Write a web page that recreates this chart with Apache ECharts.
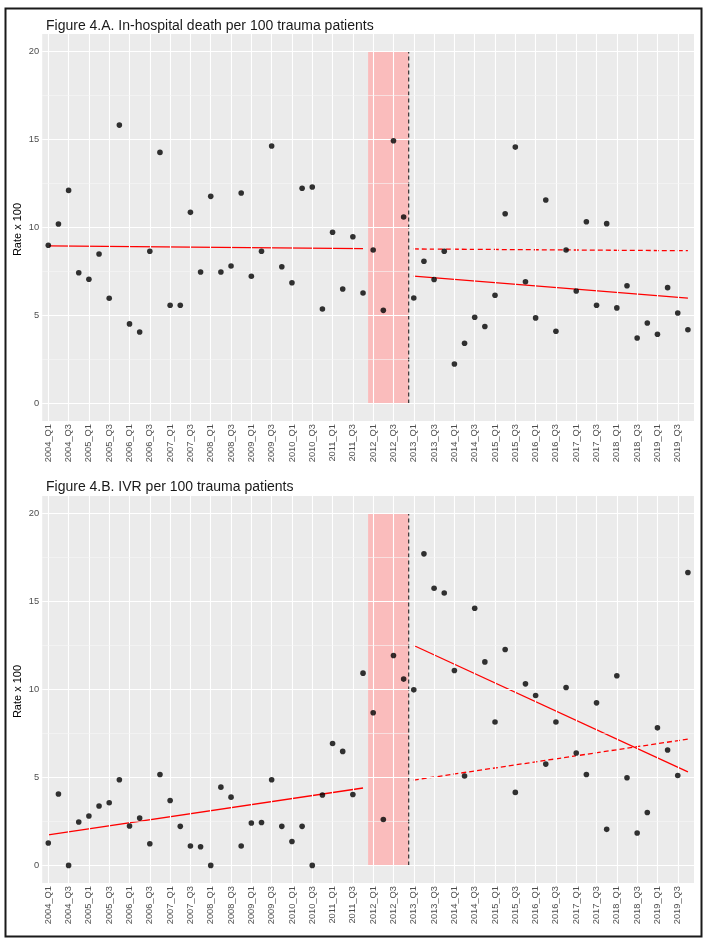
<!DOCTYPE html>
<html>
<head>
<meta charset="utf-8">
<script src="https://cdn.jsdelivr.net/npm/echarts@6/dist/echarts.min.js"></script>
<style>
html,body{margin:0;padding:0;background:#fff;}
#chart{width:707px;height:941px;}
</style>
</head>
<body>
<div id="chart"></div>
<script>
// ---- categories ----
const years = [2004,2005,2006,2007,2008,2009,2010,2011,2012,2013,2014,2015,2016,2017,2018,2019];
const quarterNames = ['Q1','Q2','Q3','Q4'];
const quarters = [];
years.forEach(y => quarterNames.forEach(q => quarters.push(y + '_' + q)));
// label breaks: Q1 and Q3 of every year
const xTickLabels = quarters.filter(q => q.endsWith('Q1') || q.endsWith('Q3'));

const yTickValues = [0, 5, 10, 15, 20];
const yMinorValues = [2.5, 7.5, 12.5, 17.5];

// ---- series values (rate x 100) ----
const deathRate = [
  8.99, 10.2, 12.11, 7.43, 7.06, 8.49, 5.98, 15.82,
  4.52, 4.06, 8.65, 14.27, 5.58, 5.58, 10.86, 7.47,
  11.77, 7.47, 7.81, 11.96, 7.23, 8.65, 14.63, 7.77,
  6.86, 12.23, 12.30, 5.37, 9.73, 6.5, 9.47, 6.28,
  8.72, 5.29, 14.93, 10.6, 5.99, 8.08, 7.04, 8.65,
  2.24, 3.42, 4.9, 4.37, 6.15, 10.78, 14.57, 6.92,
  4.86, 11.56, 4.1, 8.72, 6.39, 10.33, 5.58, 10.22,
  5.43, 6.69, 3.72, 4.57, 3.93, 6.58, 5.14, 4.19
];
const ivrRate = [
  1.27, 4.06, 0, 2.47, 2.81, 3.38, 3.56, 4.87,
  2.24, 2.69, 1.23, 5.17, 3.69, 2.22, 1.1, 1.06,
  0, 4.45, 3.88, 1.1, 2.41, 2.44, 4.87, 2.22,
  1.36, 2.22, 0, 4.0, 6.93, 6.48, 4.03, 10.93,
  8.68, 2.61, 11.93, 10.59, 9.98, 17.71, 15.76, 15.49,
  11.08, 5.08, 14.62, 11.57, 8.15, 12.27, 4.15, 10.32,
  9.66, 5.76, 8.15, 10.11, 6.39, 5.17, 9.24, 2.05,
  10.78, 4.98, 1.84, 3.01, 7.82, 6.56, 5.11, 16.65
];

// ---- fitted segments (start / end values) ----
const preStart = '2004_Q1', preEnd = '2011_Q4';
const postStart = '2013_Q1', postEnd = '2019_Q4';
const interventionFirst = '2012_Q1', interventionLast = '2012_Q4';

const deathTrendPre = [8.95, 8.80];
const deathTrendPost = [7.24, 5.98];
const deathTrendCounterfactual = [8.78, 8.68];
const ivrTrendPre = [1.74, 4.40];
const ivrTrendPost = [12.5, 5.32];
const ivrTrendCounterfactual = [4.85, 7.18];

const panelTitles = [
  'Figure 4.A. In-hospital death per 100 trauma patients',
  'Figure 4.B. IVR per 100 trauma patients'
];
const yAxisTitle = 'Rate x 100';

// ---- build ----
const FONT = '"Liberation Sans", Arial, sans-serif';
const idx = q => quarters.indexOf(q);
const xTickIdx = xTickLabels.map(idx);
const rectStart = idx(interventionFirst) - 0.5;
const rectEnd = idx(interventionLast) + 0.5;

const grids = [
  {left: 42.2, width: 651.8, top: 34, height: 387},
  {left: 42.2, width: 651.8, top: 496, height: 387}
];

function xAxisFor(i) {
  return {
    type: 'value', gridIndex: i, min: -0.6, max: quarters.length - 1 + 0.6,
    axisLine: {show: false},
    axisTick: {show: true, length: 3, customValues: xTickIdx, lineStyle: {color: '#333', width: 1}},
    axisLabel: {
      show: true, customValues: xTickIdx, rotate: 90, margin: 3,
      fontSize: 9.3, color: '#4d4d4d', fontFamily: FONT,
      formatter: v => quarters[Math.round(v)]
    },
    splitLine: {show: false}
  };
}
function yAxisFor(i) {
  return {
    type: 'value', gridIndex: i, min: -1, max: 21,
    axisLine: {show: false},
    axisTick: {show: true, length: 3, customValues: yTickValues, lineStyle: {color: '#333', width: 1}},
    axisLabel: {show: true, customValues: yTickValues, margin: 3, fontSize: 9.3, color: '#4d4d4d', fontFamily: FONT},
    splitLine: {show: false}
  };
}

function panelSeries(i, rates, pre, post, cf) {
  const gridLines = [];
  xTickIdx.forEach(v => gridLines.push({xAxis: v, lineStyle: {color: '#ffffff', width: 1.1}}));
  yTickValues.forEach(v => gridLines.push({yAxis: v, lineStyle: {color: '#ffffff', width: 1.1}}));
  yMinorValues.forEach(v => gridLines.push({yAxis: v, lineStyle: {color: '#f7f7f7', width: 0.6}}));
  return [
    { // panel background grid
      type: 'line', xAxisIndex: i, yAxisIndex: i, data: [], silent: true, z: 1,
      markLine: {silent: true, symbol: 'none', label: {show: false}, animation: false,
        lineStyle: {type: 'solid'}, data: gridLines}
    },
    { // intervention period shading + dashed boundary
      type: 'line', xAxisIndex: i, yAxisIndex: i, data: [], silent: true, z: 2,
      markArea: {silent: true, itemStyle: {color: 'rgba(255,172,172,0.75)'},
        data: [[{xAxis: rectStart, yAxis: 0}, {xAxis: rectEnd, yAxis: 20}]]}
    },
    {
      type: 'line', xAxisIndex: i, yAxisIndex: i, z: 3, symbol: 'none', silent: true,
      lineStyle: {color: '#222', width: 1.1, type: [4, 3]},
      data: [[rectEnd, 0], [rectEnd, 20]]
    },
    {
      type: 'line', xAxisIndex: i, yAxisIndex: i, z: 4, symbol: 'none', silent: true,
      lineStyle: {color: '#ff0000', width: 1.3},
      data: [[idx(preStart), pre[0]], [idx(preEnd), pre[1]]]
    },
    {
      type: 'line', xAxisIndex: i, yAxisIndex: i, z: 4, symbol: 'none', silent: true,
      lineStyle: {color: '#ff0000', width: 1.3},
      data: [[idx(postStart), post[0]], [idx(postEnd), post[1]]]
    },
    {
      type: 'line', xAxisIndex: i, yAxisIndex: i, z: 4, symbol: 'none', silent: true,
      lineStyle: {color: '#ff0000', width: 1.3, type: [5, 3]},
      data: [[idx(postStart), cf[0]], [idx(postEnd), cf[1]]]
    },
    {
      type: 'scatter', xAxisIndex: i, yAxisIndex: i, z: 5, symbolSize: 5.6,
      itemStyle: {color: '#000'},
      data: rates.map((v, k) => [k, v])
    }
  ];
}

const chart = echarts.init(document.getElementById('chart'), null, {renderer: 'canvas'});
chart.setOption({
  animation: false,
  backgroundColor: '#ffffff',
  title: [
    {text: panelTitles[0], left: 41, top: 14, textStyle: {fontSize: 14, fontWeight: 'normal', color: '#1a1a1a', fontFamily: FONT}},
    {text: panelTitles[1], left: 41, top: 475, textStyle: {fontSize: 14, fontWeight: 'normal', color: '#1a1a1a', fontFamily: FONT}}
  ],
  grid: grids.map(g => Object.assign({backgroundColor: '#ebebeb', show: true, borderWidth: 0}, g)),
  xAxis: [xAxisFor(0), xAxisFor(1)],
  yAxis: [yAxisFor(0), yAxisFor(1)],
  graphic: [
    {type: 'rect', shape: {x: 5.5, y: 8.5, width: 696, height: 928}, style: {fill: 'none', stroke: '#1a1a1a', lineWidth: 2}, z: 100},
    {type: 'text', x: 18, y: grids[0].top + grids[0].height / 2 + 2, rotation: Math.PI / 2,
      style: {text: yAxisTitle, fontSize: 11, fontFamily: FONT, fill: '#000', align: 'center', verticalAlign: 'middle'}},
    {type: 'text', x: 18, y: grids[1].top + grids[1].height / 2 + 2, rotation: Math.PI / 2,
      style: {text: yAxisTitle, fontSize: 11, fontFamily: FONT, fill: '#000', align: 'center', verticalAlign: 'middle'}}
  ],
  series: panelSeries(0, deathRate, deathTrendPre, deathTrendPost, deathTrendCounterfactual)
    .concat(panelSeries(1, ivrRate, ivrTrendPre, ivrTrendPost, ivrTrendCounterfactual))
});
</script>
</body>
</html>
